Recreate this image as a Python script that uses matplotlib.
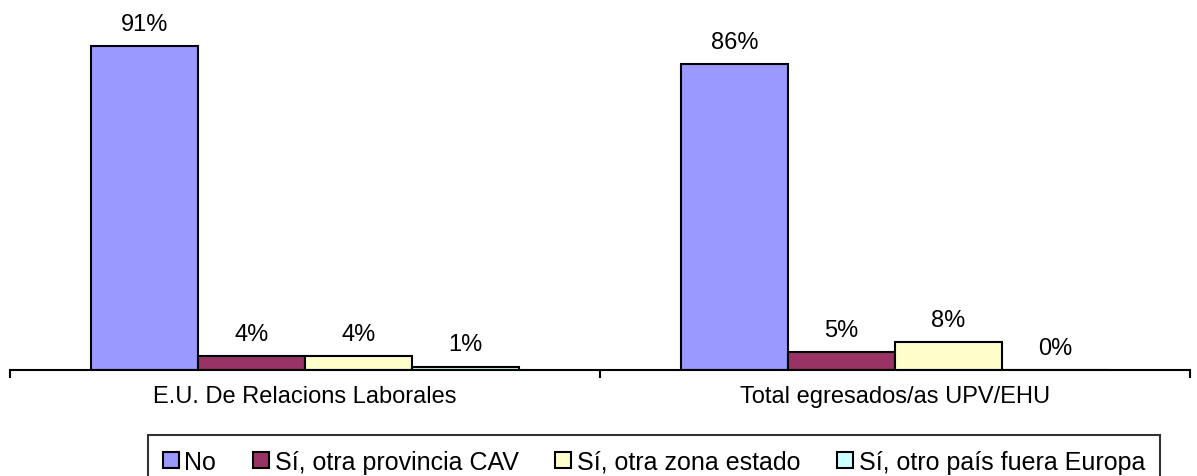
import matplotlib.pyplot as plt
import numpy as np

plt.rcParams['font.family'] = ['Liberation Sans', 'DejaVu Sans']

groups = ["E.U. De Relacions Laborales", "Total egresados/as UPV/EHU"]
series = ["No", "Sí, otra provincia CAV", "Sí, otra zona estado", "Sí, otro país fuera Europa"]
values = [
    [91, 86],
    [4, 5],
    [4, 8],
    [1, 0],
]
colors = ["#9999FF", "#993366", "#FFFFCC", "#CCFFFF"]

fig = plt.figure(figsize=(11.97, 4.77), dpi=100)
ax = fig.add_axes([0.0084, 0.222, 0.9858, 0.746])

x = np.arange(len(groups))
w = 0.1814
for i, name in enumerate(series):
    pos = x + (i - 1.5) * w
    bars = ax.bar(pos, values[i], w, color=colors[i], edgecolor="black",
                  linewidth=1.5, label=name)
    for b, v in zip(bars, values[i]):
        ax.annotate(f"{v}%", (b.get_x() + b.get_width() / 2, b.get_height()),
                    xytext=(0, 8), textcoords="offset points",
                    ha="center", va="bottom", fontsize=17)

ax.set_xlim(-0.5, 1.5)
ax.set_ylim(0, 100)
for s in ["top", "right", "left"]:
    ax.spines[s].set_visible(False)
ax.spines["bottom"].set_linewidth(1.5)
ax.set_yticks([])
ax.set_xticks(x)
ax.set_xticklabels(groups, fontsize=17)
ax.tick_params(axis="x", which="major", length=0, pad=11)
ax.set_xticks([-0.5, 0.5, 1.5], minor=True)
ax.tick_params(axis="x", which="minor", length=6, width=1.5, direction="out")

leg = fig.legend(loc="upper center", bbox_to_anchor=(0.5464, 0.086), ncol=4, fontsize=18,
                 frameon=True, fancybox=False, edgecolor="black",
                 handlelength=0.64, handleheight=0.64, handletextpad=0.22,
                 columnspacing=1.48, borderpad=0.6, borderaxespad=0)
leg.get_frame().set_linewidth(1.5)
for h in leg.legend_handles:
    h.set_linewidth(1.5)

fig.savefig("out.png", dpi=100)
